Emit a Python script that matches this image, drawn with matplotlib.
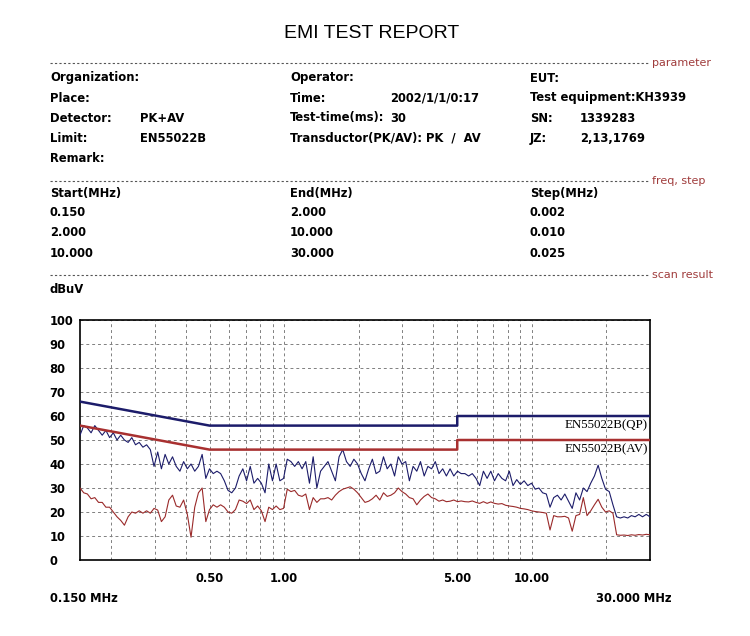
import matplotlib
matplotlib.use("Agg")
import matplotlib.pyplot as plt

W, H = 750, 636

# scan frequencies (MHz) and measured levels (dBuV)
FREQ = [0.1500, 0.1553, 0.1607, 0.1663, 0.1721, 0.1782, 0.1844, 0.1908, 0.1975, 0.2044,
        0.2116, 0.2190, 0.2267, 0.2346, 0.2428, 0.2513, 0.2601, 0.2692, 0.2786, 0.2884,
        0.2985, 0.3089, 0.3197, 0.3309, 0.3425, 0.3545, 0.3669, 0.3797, 0.3930, 0.4068,
        0.4210, 0.4358, 0.4510, 0.4668, 0.4831, 0.5000, 0.5175, 0.5357, 0.5544, 0.5738,
        0.5939, 0.6147, 0.6362, 0.6585, 0.6815, 0.7054, 0.7300, 0.7556, 0.7820, 0.8094,
        0.8377, 0.8671, 0.8974, 0.9288, 0.9613, 0.9950, 1.0298, 1.0658, 1.1031, 1.1418,
        1.1817, 1.2231, 1.2659, 1.3102, 1.3560, 1.4035, 1.4526, 1.5035, 1.5561, 1.6106,
        1.6669, 1.7253, 1.7856, 1.8481, 1.9128, 1.9798, 2.0491, 2.1208, 2.1950, 2.2719,
        2.3514, 2.4337, 2.5188, 2.6070, 2.6982, 2.7927, 2.8904, 2.9916, 3.0963, 3.2047,
        3.3168, 3.4329, 3.5531, 3.6774, 3.8062, 3.9394, 4.0772, 4.2200, 4.3676, 4.5205,
        4.6787, 4.8425, 5.0120, 5.1874, 5.3690, 5.5569, 5.7513, 5.9526, 6.1610, 6.3766,
        6.5998, 6.8308, 7.0699, 7.3173, 7.5734, 7.8385, 8.1129, 8.3968, 8.6907, 8.9949,
        9.3097, 9.6355, 9.9728, 10.322, 10.683, 11.057, 11.444, 11.845, 12.259, 12.688,
        13.132, 13.592, 14.068, 14.560, 15.070, 15.597, 16.143, 16.708, 17.293, 17.898,
        18.524, 19.173, 19.844, 20.538, 21.257, 22.001, 22.771, 23.568, 24.393, 25.247,
        26.130, 27.045, 27.992, 28.971, 30.000]

PK = [52, 56, 55, 53, 56, 54, 52, 54, 51, 53,
      50, 52, 50, 49, 51, 48, 49, 47, 48, 46,
      39, 45, 38, 44, 40, 43, 39, 37, 41, 38,
      40, 37, 39, 44, 34, 38, 36, 37, 36, 33,
      29, 28, 30, 35, 38, 33, 39, 32, 34, 32,
      28, 40, 33, 40, 33, 34, 42, 41, 39, 41,
      38, 41, 32, 43, 30, 37, 39, 41, 37, 33,
      43, 46, 41, 39, 42, 40, 36, 33, 38, 42,
      36, 37, 43, 38, 40, 35, 43, 40, 41, 33,
      39, 37, 41, 35, 39, 38, 41, 36, 38, 35,
      38, 35, 37, 36, 36, 35, 36, 34, 31, 37,
      34, 37, 33, 36, 34, 33, 37, 31, 33.5, 31.5,
      33, 31, 32, 29.5, 30, 28, 27.5, 22, 26, 27,
      25, 27.5, 24.5, 21.5, 28, 25, 30, 28.5, 32, 35,
      39.5, 34, 29.5, 28.5, 23, 18, 17.5, 18, 17.5, 18.5,
      18, 19, 18, 19, 18]

AV = [30, 28, 27.5, 25.5, 26, 24, 24, 22, 22, 20,
      18, 16.5, 14.5, 18, 20, 19.5, 20.5, 19.5, 20.5, 19.5,
      21.5, 20.8, 16, 18, 25, 27, 22.5, 22, 25, 19,
      9.5, 22, 28, 30, 16, 21, 23, 22, 23, 22,
      20, 19.5, 21, 25, 24.5, 23.5, 25, 21, 22.5, 20.5,
      16, 22, 21, 22.5, 21, 21.5, 29.5, 28.5, 29, 27,
      26.5, 27.5, 21, 26, 24, 25.5, 25.5, 26, 25, 27,
      28.5, 29.5, 30, 30.5, 29.5, 28, 26, 24, 24.5, 25.5,
      27, 25, 28, 26.5, 27, 28, 30, 28.5, 27.5, 26,
      25.5, 23, 25, 26.5, 27.5, 26, 25.5, 24.5, 25, 24.3,
      24.5, 25, 24.3, 24.6, 24.3, 24.2, 24.6, 24, 23.6, 24.3,
      23.6, 24.2, 23.6, 23.3, 23.5, 22.8, 22.5, 22.3, 22, 21.5,
      21.3, 21, 20.5, 20.2, 20, 19.8, 19.5, 12.5, 18.5, 18,
      18, 18.2, 17.5, 12, 18.5, 19, 26, 18.5, 20.5, 23,
      25.3, 22, 20, 20.5, 19.5, 10.5, 10.3, 10.4, 10.2, 10.5,
      10.3, 10.6, 10.4, 10.7, 10.5]

# EN55022 class B limits
LIM_F = [0.15, 0.5, 5.0, 5.0, 30.0]
LIM_QP = [66, 56, 56, 60, 60]
LIM_AV = [56, 46, 46, 50, 50]

GRID_F = [0.2, 0.3, 0.4, 0.5, 0.6, 0.7, 0.8, 0.9, 1, 2, 3, 4, 5, 6, 7, 8, 9, 10, 20]
XLAB = {0.5: "0.50", 1: "1.00", 5: "5.00", 10: "10.00"}
YTICKS = [0, 10, 20, 30, 40, 50, 60, 70, 80, 90, 100]

INFO = [
    (50, 78, "Organization:"), (290, 78, "Operator:"), (530, 78, "EUT:"),
    (50, 98, "Place:"), (290, 98, "Time:"), (390, 98, "2002/1/1/0:17"),
    (530, 98, "Test equipment:KH3939"),
    (50, 118, "Detector:"), (140, 118, "PK+AV"), (290, 118, "Test-time(ms):"),
    (390, 118, "30"), (530, 118, "SN:"), (580, 118, "1339283"),
    (50, 138, "Limit:"), (140, 138, "EN55022B"),
    (290, 138, "Transductor(PK/AV): PK  /  AV"), (530, 138, "JZ:"), (580, 138, "2,13,1769"),
    (50, 158, "Remark:"),
    (50, 193, "Start(MHz)"), (290, 193, "End(MHz)"), (530, 193, "Step(MHz)"),
    (50, 213, "0.150"), (290, 213, "2.000"), (530, 213, "0.002"),
    (50, 233, "2.000"), (290, 233, "10.000"), (530, 233, "0.010"),
    (50, 253, "10.000"), (290, 253, "30.000"), (530, 253, "0.025"),
    (50, 289, "dBuV"),
]
SECTIONS = [(63, "parameter"), (181, "freq, step"), (275, "scan result")]

BODY = dict(family="DejaVu Sans", fontstretch="condensed", fontweight="bold", fontsize=9.3)
NAVY = "#1c1c6a"
DRED = "#9a2a2a"


def fx(x):
    return x / W


def fy(y):
    return 1 - y / H


fig = plt.figure(figsize=(W / 100, H / 100), dpi=100)
fig.patch.set_facecolor("white")

fig.text(fx(372), fy(33), "EMI TEST REPORT", family="Liberation Sans",
         fontsize=14, ha="center", va="center")

for y, lab in SECTIONS:
    fig.add_artist(plt.Line2D([fx(50), fx(648)], [fy(y), fy(y)], color="#555555",
                              lw=0.8, ls=(0, (2, 2))))
    fig.text(fx(652), fy(y), lab, fontsize=8, color="#a03c3c", ha="left", va="center")

for x, y, s in INFO:
    fig.text(fx(x), fy(y), s, ha="left", va="center", **BODY)

ax = fig.add_axes([fx(80), fy(560), 570 / W, 240 / H])
ax.set_xscale("log")
ax.set_xlim(0.15, 30)
ax.set_ylim(0, 100)

ax.plot(LIM_F, LIM_QP, color=NAVY, lw=1.8, zorder=4)
ax.plot(LIM_F, LIM_AV, color="#a83030", lw=1.8, zorder=4)
ax.plot(FREQ, PK, color=NAVY, lw=0.8, zorder=3)
ax.plot(FREQ, AV, color=DRED, lw=0.8, zorder=3)

ax.text(29.5, 58.7, "EN55022B(QP)", family="Liberation Serif", fontsize=9.3,
        ha="right", va="top")
ax.text(29.5, 48.7, "EN55022B(AV)", family="Liberation Serif", fontsize=9.3,
        ha="right", va="top")

ax.set_xticks(GRID_F)
ax.set_xticklabels([XLAB.get(f, "") for f in GRID_F])
ax.xaxis.set_minor_locator(matplotlib.ticker.NullLocator())
ax.set_yticks(YTICKS)
ax.tick_params(length=0)
ax.tick_params(axis="x", pad=9)
ax.tick_params(axis="y", pad=22)
for t in ax.get_xticklabels() + ax.get_yticklabels():
    t.set_family("DejaVu Sans")
    t.set_fontstretch("condensed")
    t.set_fontweight("bold")
    t.set_fontsize(9.3)
for t in ax.get_yticklabels():
    t.set_ha("left")
ax.grid(True, color="#808080", lw=0.7, ls=(0, (3, 3)))
for sp in ax.spines.values():
    sp.set_linewidth(1.2)
    sp.set_color("black")

fig.text(fx(50), fy(598), "0.150 MHz", ha="left", va="center", **BODY)
fig.text(fx(672), fy(598), "30.000 MHz", ha="right", va="center", **BODY)

fig.savefig("out.png", dpi=100, facecolor="white")
